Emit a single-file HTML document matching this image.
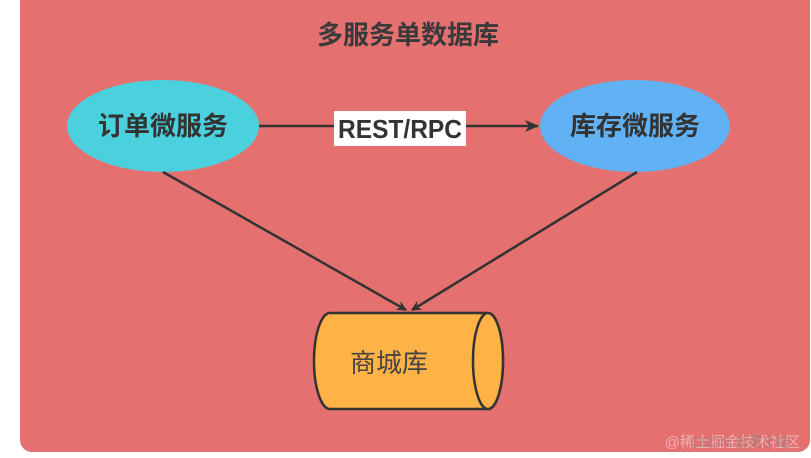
<!DOCTYPE html>
<html><head><meta charset="utf-8"><style>
html,body{margin:0;padding:0;background:#fff;width:811px;height:458px;overflow:hidden}
svg{display:block}
text{font-family:"Liberation Sans","Noto Sans CJK SC",sans-serif}
</style></head><body>
<svg width="811" height="458" viewBox="0 0 811 458">
<defs><marker id="a" markerWidth="10" markerHeight="10" refX="9" refY="5" orient="auto" markerUnits="userSpaceOnUse"><path d="M0,0 L10,5 L0,10 L3,5 Z" fill="#333"/></marker>
<marker id="b" markerWidth="14" markerHeight="12" refX="13" refY="6" orient="auto" markerUnits="userSpaceOnUse"><path d="M0,0 L14,6 L0,12 L4,6 Z" fill="#333"/></marker></defs>
<rect x="20" y="-10" width="790" height="462" rx="12" fill="#e47070"/>
<text x="408" y="44" font-size="26" font-weight="bold" fill="#3a3a3a" text-anchor="middle">多服务单数据库</text>
<ellipse cx="163" cy="126" rx="96" ry="46" fill="#4bd0de"/>
<text x="163" y="135" font-size="26" font-weight="bold" fill="#333" text-anchor="middle">订单微服务</text>
<ellipse cx="635" cy="126" rx="95" ry="46" fill="#61b1f5"/>
<text x="635" y="135" font-size="26" font-weight="bold" fill="#333" text-anchor="middle">库存微服务</text>
<line x1="259" y1="126" x2="538" y2="126" stroke="#333" stroke-width="2.5" marker-end="url(#b)"/>
<rect x="334" y="111" width="132" height="35" fill="#fff"/>
<text x="400" y="138" font-size="26" font-weight="bold" fill="#333" text-anchor="middle" textLength="124" lengthAdjust="spacingAndGlyphs">REST/RPC</text>
<line x1="163" y1="172" x2="406" y2="310" stroke="#333" stroke-width="2.5" marker-end="url(#a)"/>
<line x1="637" y1="172" x2="412" y2="310" stroke="#333" stroke-width="2.5" marker-end="url(#a)"/>
<path d="M330,313 L488,313 A15,48 0 0 1 488,409 L330,409 A16,48 0 0 1 330,313 Z" fill="#ffb347" stroke="#333" stroke-width="2.5"/>
<ellipse cx="488" cy="361" rx="15" ry="48" fill="#ffb347" stroke="#333" stroke-width="2.5"/>
<text x="389" y="372" font-size="26" fill="#444" text-anchor="middle">商城库</text>
<text x="800" y="447" font-size="15" fill="#f0c0c0" text-anchor="end" opacity="0.8">@稀土掘金技术社区</text>
<text x="790" y="447" font-size="14" fill="#888" text-anchor="end" opacity="0.6">CSDN @黄小结</text>
</svg>
</body></html>
